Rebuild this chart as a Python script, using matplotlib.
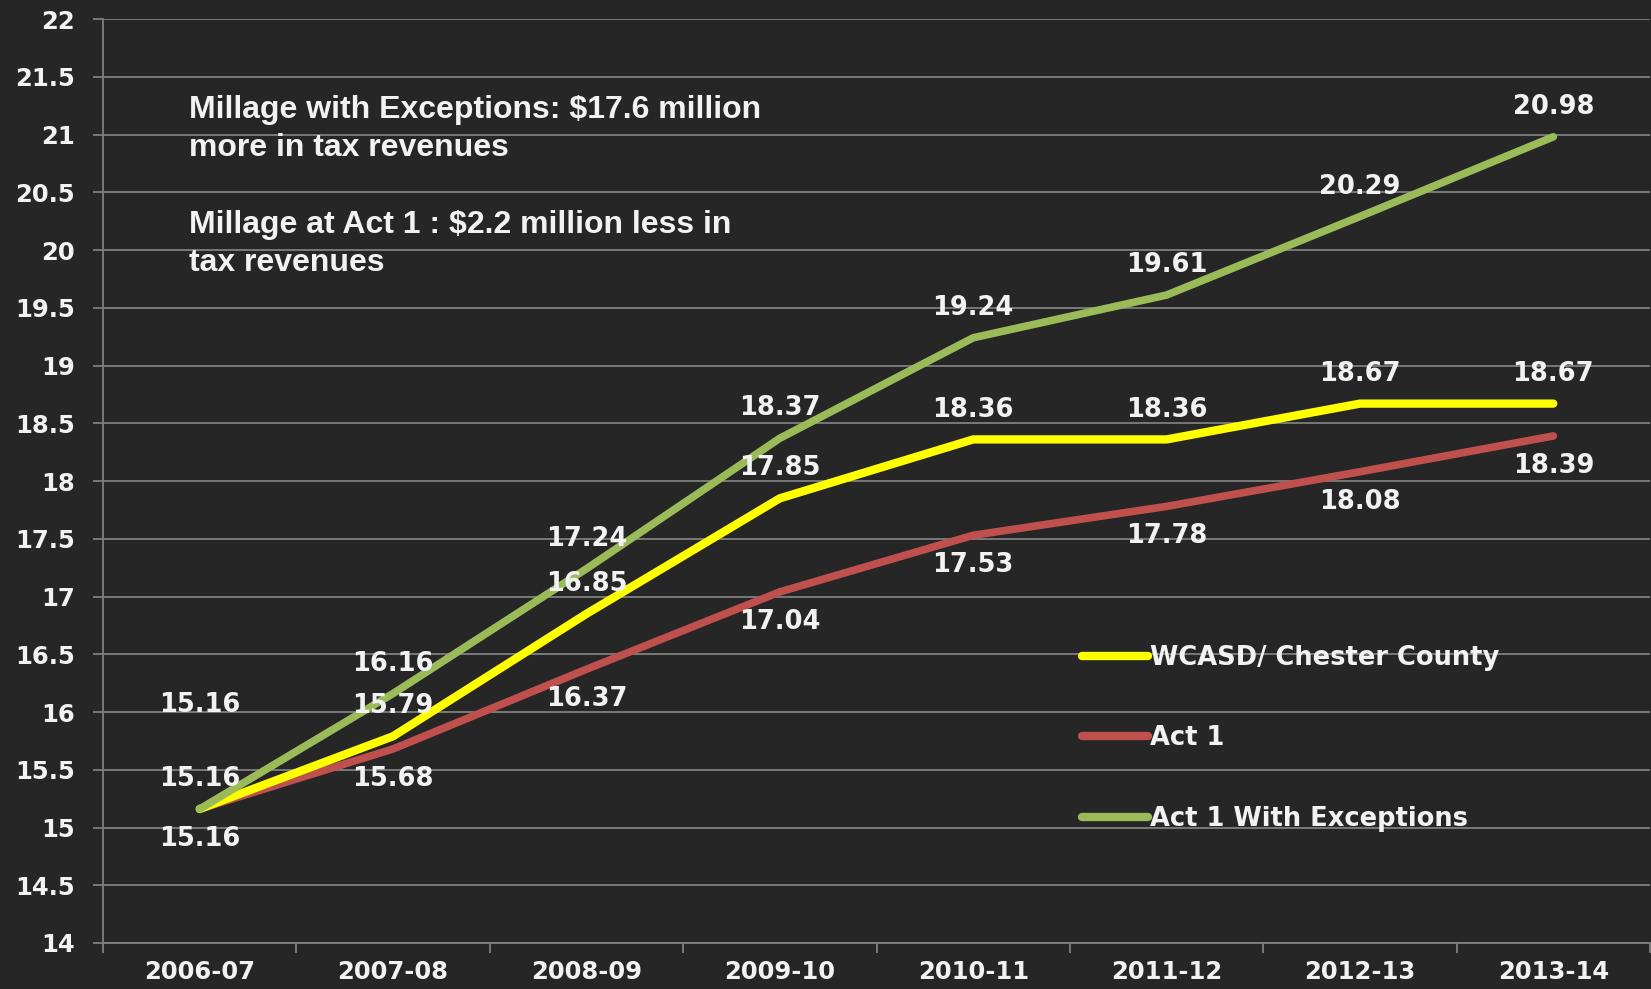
import matplotlib
matplotlib.use("Agg")
import matplotlib.pyplot as plt
from matplotlib.ticker import FixedLocator

categories = ["2006-07", "2007-08", "2008-09", "2009-10", "2010-11", "2011-12", "2012-13", "2013-14"]
wcasd = [15.16, 15.79, 16.85, 17.85, 18.36, 18.36, 18.67, 18.67]
act1 = [15.16, 15.68, 16.37, 17.04, 17.53, 17.78, 18.08, 18.39]
act1_exc = [15.16, 16.16, 17.24, 18.37, 19.24, 19.61, 20.29, 20.98]
series_names = ["WCASD/ Chester County", "Act 1", "Act 1 With Exceptions"]
colors = ["#FFFF00", "#C0504D", "#9BBB59"]
note_lines = ["Millage with Exceptions: $17.6 million", "more in tax revenues",
              "Millage at Act 1 : $2.2 million less in", "tax revenues"]

BG = "#262626"
GRID = "#7f7f7f"
TXT = "#f2f2f2"
W, H = 1651, 989

fig = plt.figure(figsize=(W / 100, H / 100), dpi=100, facecolor=BG)
ax = fig.add_axes([103 / W, 1 - 943 / H, (1650 - 103) / W, (943 - 19) / H], facecolor=BG)

x = list(range(len(categories)))
ax.set_xlim(-0.5, len(categories) - 0.5)
ax.set_ylim(14, 22)

ax.grid(axis="y", color=GRID, linewidth=1.3, zorder=0)
ax.set_axisbelow(True)
for s in ["top", "right"]:
    ax.spines[s].set_visible(False)
for s in ["left", "bottom"]:
    ax.spines[s].set_color(GRID)
    ax.spines[s].set_linewidth(1.3)

ax.set_yticks([14 + 0.5 * i for i in range(17)])
ax.set_yticklabels([("%g" % (14 + 0.5 * i)) for i in range(17)])
ax.tick_params(axis="y", colors=GRID, length=7, width=1.3, pad=13)
for lab in ax.get_yticklabels():
    lab.set_color(TXT)
    lab.set_fontsize(17.5)
    lab.set_fontweight("bold")
    lab.set_family("DejaVu Sans")

ax.set_xticks(x)
ax.set_xticklabels(categories)
ax.tick_params(axis="x", which="major", length=0, pad=12)
ax.xaxis.set_minor_locator(FixedLocator([i - 0.5 for i in range(len(categories) + 1)]))
ax.tick_params(axis="x", which="minor", length=7, width=1.3, color=GRID)
for lab in ax.get_xticklabels():
    lab.set_color(TXT)
    lab.set_fontsize(17.5)
    lab.set_fontweight("bold")
    lab.set_family("DejaVu Sans")

all_series = [wcasd, act1, act1_exc]
widths = [6.0, 5.5, 5.5]
zorders = [3, 2, 4]
for vals, name, c, lw, z in zip(all_series, series_names, colors, widths, zorders):
    ax.plot(x, vals, color=c, linewidth=lw, solid_capstyle="round",
            solid_joinstyle="round", label=name, zorder=z)

label_kw = dict(ha="center", va="center", color=TXT, fontsize=18.5,
                fontweight="bold", family="DejaVu Sans", textcoords="offset points", zorder=6)
# offsets in points
for i, v in enumerate(act1_exc):
    ax.annotate(f"{v:.2f}", (i, v), xytext=(0, 21.5), **label_kw)
for i, v in enumerate(wcasd):
    dy = 75 if i == 0 else 21.5
    ax.annotate(f"{v:.2f}", (i, v), xytext=(0, dy), **label_kw)
for i, v in enumerate(act1):
    ax.annotate(f"{v:.2f}", (i, v), xytext=(0, -21.5), **label_kw)

note_kw = dict(color=TXT, fontsize=23, fontweight="bold", family="Liberation Sans",
               ha="left", va="baseline")
for line, yb in zip(note_lines, [118, 156, 233, 271]):
    fig.text(189 / W, 1 - yb / H, line, **note_kw)

leg = ax.legend(loc="upper left", bbox_to_anchor=(1082 / W, 1 - 645 / H),
                bbox_transform=fig.transFigure, frameon=False, borderpad=0,
                borderaxespad=0, handlelength=2.55, handletextpad=0.1,
                labelspacing=2.12, prop={"family": "DejaVu Sans", "weight": "bold", "size": 18.5})
for t in leg.get_texts():
    t.set_color(TXT)
for h in leg.get_lines():
    h.set_linewidth(6)
    h.set_solid_capstyle("round")

fig.savefig("out.png", dpi=100, facecolor=BG)
